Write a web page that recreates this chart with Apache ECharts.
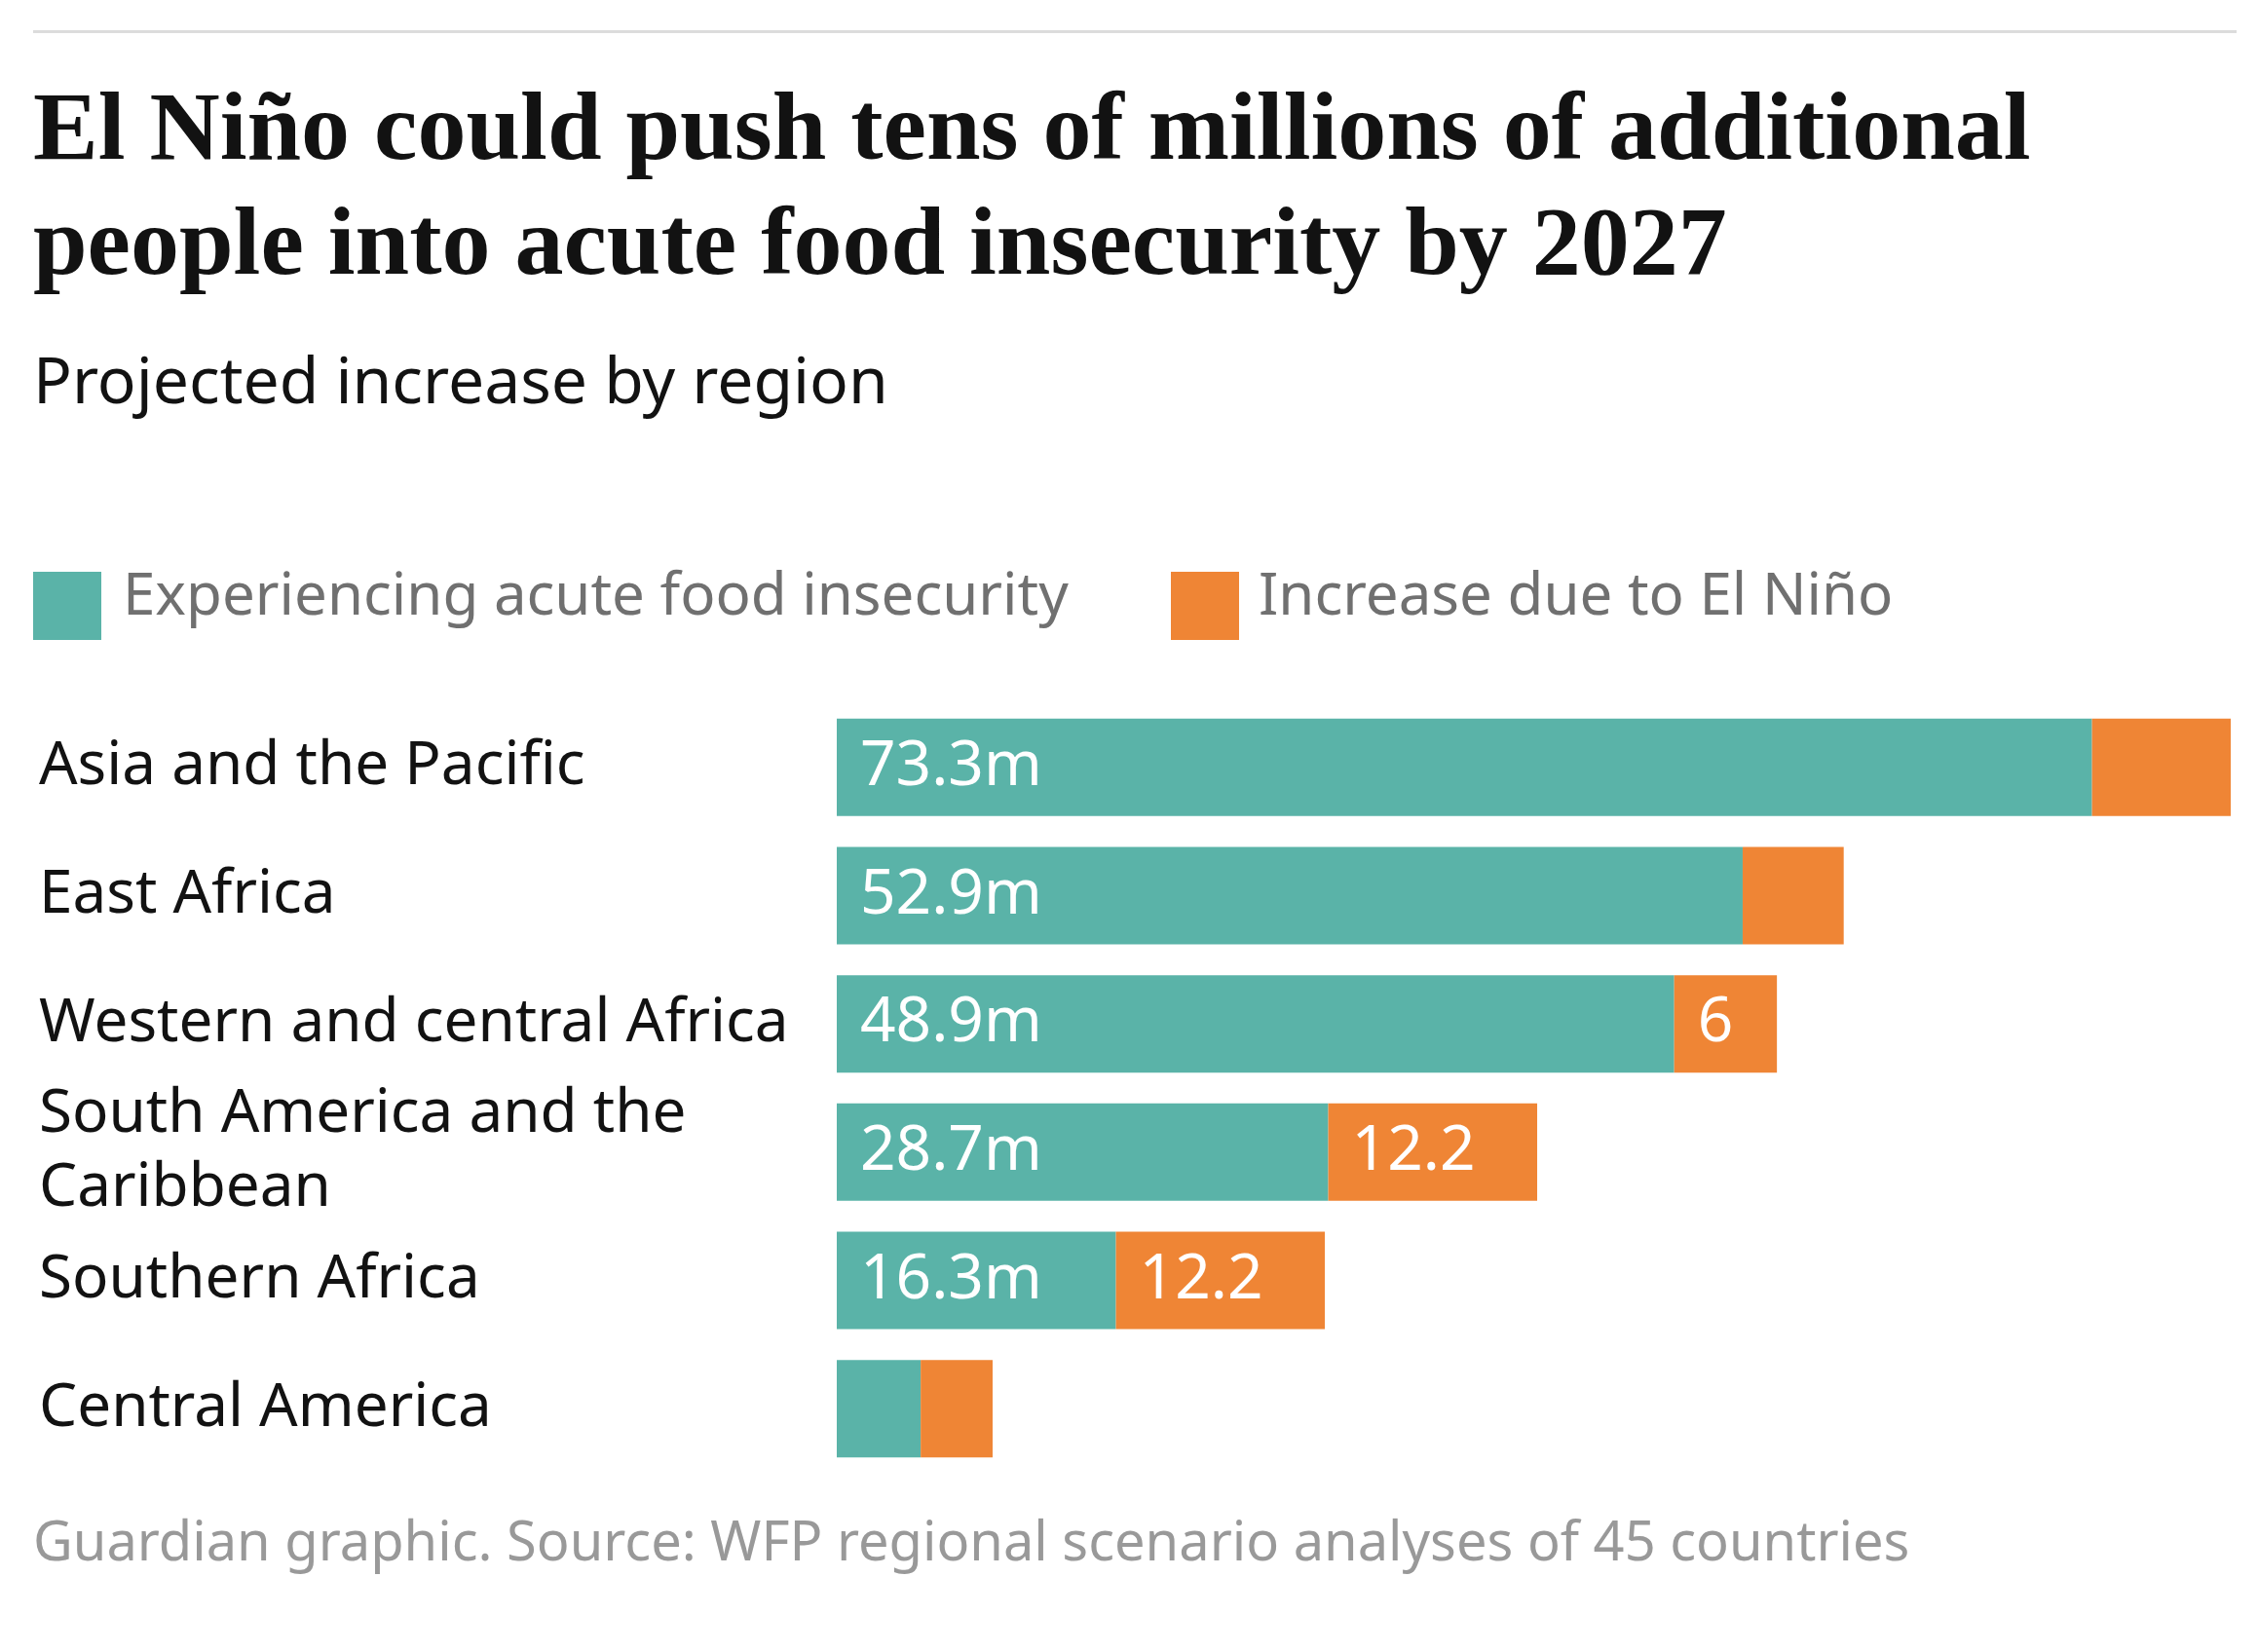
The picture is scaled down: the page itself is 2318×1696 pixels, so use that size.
<!DOCTYPE html>
<html>
<head>
<meta charset="utf-8">
<script src="https://cdn.jsdelivr.net/npm/echarts@6/dist/echarts.min.js"></script>
<style>
  html, body { margin: 0; padding: 0; background: #fff; }
  #chart { width: 2318px; height: 1696px; }
</style>
</head>
<body>
<div id="chart"></div>
<script>
// regions, top to bottom
var regions = ['Asia and the Pacific', 'East Africa', 'Western and central Africa',
  'South America and the\nCaribbean', 'Southern Africa', 'Central America'];
// millions of people
var insecure = [73.3, 52.9, 48.9, 28.7, 16.3, 4.9];
var elNino = [8.1, 5.9, 6, 12.2, 12.2, 4.2];
// which segments carry a label
var insecureLabels = ['73.3m', '52.9m', '48.9m', '28.7m', '16.3m', ''];
var elNinoLabels = ['', '', '6', '12.2', '12.2', ''];

var teal = '#5ab3a8', orange = '#ef8535';
var sans = '"Noto Sans", "Open Sans", sans-serif';

var chart = echarts.init(document.getElementById('chart'));
chart.setOption({
  animation: false,
  backgroundColor: '#fff',
  graphic: [
    { type: 'rect', left: 34, top: 31, shape: { width: 2262, height: 3 }, style: { fill: '#dcdcdc' } },
    { type: 'text', left: 34, top: 78, style: {
      text: 'El Niño could push tens of millions of additional\npeople into acute food insecurity by 2027',
      font: 'bold 100px "Liberation Serif", "DejaVu Serif", serif', fill: '#121212', lineHeight: 118 } },
    { type: 'text', left: 34, top: 362, style: {
      text: 'Projected increase by region', font: '66px ' + sans, fill: '#121212' } },
    { type: 'rect', left: 34, top: 587, shape: { width: 70, height: 70 }, style: { fill: teal } },
    { type: 'text', left: 126, top: 584, style: {
      text: 'Experiencing acute food insecurity', font: '60px ' + sans, fill: '#707070' } },
    { type: 'rect', left: 1202, top: 587, shape: { width: 70, height: 70 }, style: { fill: orange } },
    { type: 'text', left: 1292, top: 584, style: {
      text: 'Increase due to El Niño', font: '60px ' + sans, fill: '#707070' } },
    { type: 'text', left: 34, top: 1558, style: {
      text: 'Guardian graphic. Source: WFP regional scenario analyses of 45 countries',
      font: '56px ' + sans, fill: '#999999' } }
  ],
  grid: { left: 859, right: 28, top: 722, bottom: 184 },
  xAxis: { type: 'value', min: 0, max: 81.4, show: false },
  yAxis: {
    type: 'category', data: regions, inverse: true,
    axisLine: { show: false }, axisTick: { show: false },
    axisLabel: { align: 'left', margin: 819, fontSize: 62, fontFamily: sans, color: '#121212', lineHeight: 76 }
  },
  series: [
    { type: 'bar', stack: 'a', data: insecure, barWidth: 100, itemStyle: { color: teal },
      label: { show: true, position: 'insideLeft', distance: 24, color: '#fff', fontSize: 64, fontFamily: sans,
        formatter: function (p) { return insecureLabels[p.dataIndex]; } } },
    { type: 'bar', stack: 'a', data: elNino, barWidth: 100, itemStyle: { color: orange },
      label: { show: true, position: 'insideLeft', distance: 24, color: '#fff', fontSize: 64, fontFamily: sans,
        formatter: function (p) { return elNinoLabels[p.dataIndex]; } } }
  ]
});
</script>
</body>
</html>
